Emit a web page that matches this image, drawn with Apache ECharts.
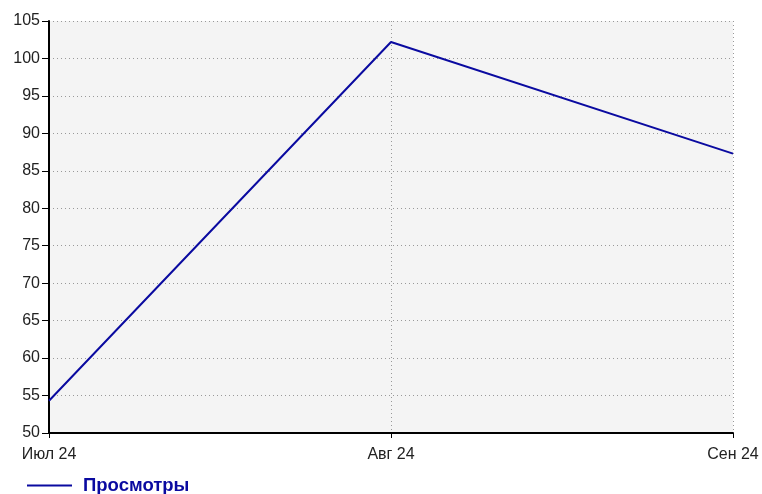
<!DOCTYPE html>
<html>
<head>
<meta charset="utf-8">
<script src="https://cdn.jsdelivr.net/npm/echarts@6/dist/echarts.min.js"></script>
<style>
html, body { margin: 0; padding: 0; background: #fff; }
#chart { width: 762px; height: 494px; }
</style>
</head>
<body>
<div id="chart"></div>
<script>
const months = ['Июл 24', 'Авг 24', 'Сен 24'];
const views = [54.3, 102.2, 87.3];
const seriesName = 'Просмотры';

const lineColor = '#0a0aa0';
const textColor = '#222';
const labelFont = 'Liberation Sans, Arial, sans-serif';

const chart = echarts.init(document.getElementById('chart'), null, { renderer: 'canvas' });

chart.setOption({
    animation: false,
    grid: {
        left: 49,
        right: 29,
        top: 21,
        bottom: 61,
        show: true,
        backgroundColor: '#f4f4f4',
        borderWidth: 0
    },
    legend: {
        left: 22,
        top: 471,
        itemWidth: 45,
        itemHeight: 2,
        itemGap: 10,
        icon: 'rect',
        textStyle: {
            color: lineColor,
            fontWeight: 'bold',
            fontSize: 18.5,
            fontFamily: labelFont,
            padding: [0, 0, 0, 6]
        },
        data: [seriesName]
    },
    xAxis: {
        type: 'category',
        boundaryGap: false,
        data: months,
        axisLine: { lineStyle: { color: '#000', width: 2 } },
        axisTick: { show: true, length: 5, lineStyle: { color: '#000' } },
        axisLabel: {
            color: textColor,
            fontSize: 16,
            fontFamily: labelFont,
            margin: 14
        },
        splitLine: {
            show: true,
            lineStyle: { color: '#999', type: [1, 3], width: 1 }
        }
    },
    yAxis: {
        type: 'value',
        min: 50,
        max: 105,
        interval: 5,
        axisLine: { show: true, lineStyle: { color: '#000', width: 2 } },
        axisTick: { show: true, length: 7, lineStyle: { color: '#000' } },
        axisLabel: {
            color: textColor,
            fontSize: 16,
            fontFamily: labelFont,
            margin: 9
        },
        splitLine: {
            show: true,
            lineStyle: { color: '#999', type: [1, 3], width: 1 }
        }
    },
    series: [{
        name: seriesName,
        type: 'line',
        data: views,
        showSymbol: false,
        symbol: 'none',
        lineStyle: { color: lineColor, width: 2 },
        itemStyle: { color: lineColor }
    }]
});
</script>
</body>
</html>
